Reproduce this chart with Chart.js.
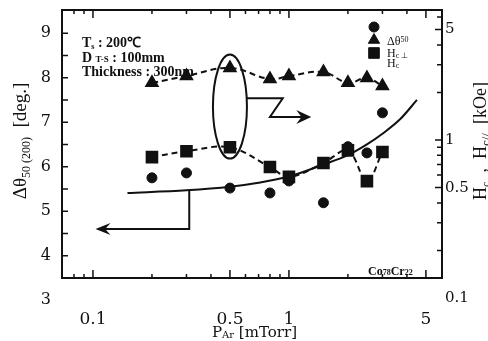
<!DOCTYPE html>
<html>
<head>
<meta charset="utf-8">
<script src="https://cdn.jsdelivr.net/npm/chart.js@4.4.1/dist/chart.umd.min.js"></script>
<style>
  html, body { margin: 0; padding: 0; background: #fff; }
</style>
</head>
<body>
<canvas id="chart" width="488" height="341"></canvas>
<script>
// Ar pressure [mTorr] for the measured samples
const pressure = [0.2, 0.3, 0.5, 0.8, 1.0, 1.5, 2.0, 2.5, 3.0];
const deltaTheta = [5.75, 5.86, 5.52, 5.41, 5.68, 5.19, 6.45, 6.31, 7.21];   // deg.
const hcPerp = [2.30, 2.54, 2.86, 2.43, 2.54, 2.69, 2.30, 2.47, 2.20];        // kOe
const hcPara = [0.78, 0.85, 0.90, 0.675, 0.585, 0.715, 0.86, 0.55, 0.84];     // kOe

// solid trend curve drawn through the delta theta points
const fitPressure = [0.15, 0.3, 0.5, 0.7, 1.0, 1.5, 2.0, 2.5, 3.0, 3.7, 4.5];
const fitTheta = [5.41, 5.47, 5.55, 5.64, 5.78, 6.05, 6.26, 6.50, 6.74, 7.07, 7.5];

const xTicks = [0.07, 0.08, 0.09, 0.1, 0.2, 0.3, 0.4, 0.5, 0.6, 0.7, 0.8, 0.9, 1, 2, 3, 4, 5, 6];
const xLabels = [0.1, 0.5, 1, 5];
const leftTicks = [3, 4, 4.5, 5, 5.5, 6, 6.5, 7, 7.5, 8, 8.5, 9];
const leftLabels = [3, 4, 5, 6, 7, 8, 9];
const rightTicks = [0.1, 0.2, 0.3, 0.4, 0.5, 0.6, 0.7, 0.8, 0.9, 1, 2, 3, 4, 5, 6];
const rightLabels = [0.1, 0.5, 1, 5];

const ink = '#111';
const serif = '"Liberation Serif", "Times New Roman", serif';
const numSerif = '"DejaVu Serif", serif';

const pairs = (xs, ys) => xs.map((x, i) => ({ x: x, y: ys[i] }));

function richText(ctx, parts, x, y, angle, align) {
    ctx.save();
    ctx.translate(x, y);
    ctx.rotate(angle || 0);
    ctx.textBaseline = 'alphabetic';
    ctx.textAlign = 'left';
    ctx.fillStyle = ink;
    const fontOf = p => `${p[3] || ''} ${p[1]}px ${p[4] || serif}`;
    const widths = parts.map(p => { ctx.font = fontOf(p); return ctx.measureText(p[0]).width; });
    const total = widths.reduce((a, b) => a + b, 0);
    let cx = align === 'center' ? -total / 2 : 0;
    parts.forEach((p, i) => {
        ctx.font = fontOf(p);
        ctx.fillText(p[0], cx, p[2]);
        cx += widths[i];
    });
    ctx.restore();
}

function arrowHead(ctx, tipX, tipY, dir, len, half) {
    // dir: 1 points right, -1 points left
    ctx.beginPath();
    ctx.moveTo(tipX, tipY);
    ctx.lineTo(tipX - dir * len, tipY - half);
    ctx.lineTo(tipX - dir * len * 0.65, tipY);
    ctx.lineTo(tipX - dir * len, tipY + half);
    ctx.closePath();
    ctx.fill();
}

// keep the plot box where the original has it
const noEdgePadding = s => { s.paddingTop = 0; s.paddingBottom = 0; s.paddingLeft = 0; s.paddingRight = 0; };

const frameAndNotes = {
    id: 'frameAndNotes',
    afterDatasetsDraw(chart) {
        const { ctx, chartArea: a, scales } = chart;
        const x = scales.x, y = scales.y, y2 = scales.y2;
        ctx.save();
        ctx.strokeStyle = ink;
        ctx.fillStyle = ink;

        // inward tick marks on all four sides
        ctx.lineWidth = 1.5;
        ctx.beginPath();
        x.ticks.forEach(t => {
            const px = x.getPixelForValue(t.value);
            if (px < a.left + 1 || px > a.right - 1) return;
            const len = xLabels.includes(t.value) ? 8 : 4;
            ctx.moveTo(px, a.bottom); ctx.lineTo(px, a.bottom - len);
            ctx.moveTo(px, a.top); ctx.lineTo(px, a.top + len);
        });
        y.ticks.forEach(t => {
            const py = y.getPixelForValue(t.value);
            if (py > a.bottom - 1 || py < a.top + 1) return;
            ctx.moveTo(a.left, py); ctx.lineTo(a.left + 6, py);
        });
        y2.ticks.forEach(t => {
            const py = y2.getPixelForValue(t.value);
            if (py > a.bottom - 1 || py < a.top + 1) return;
            const len = rightLabels.includes(t.value) ? 7 : 5;
            ctx.moveTo(a.right, py); ctx.lineTo(a.right - len, py);
        });
        ctx.stroke();

        ctx.lineWidth = 2;
        ctx.strokeRect(a.left, a.top, a.right - a.left, a.bottom - a.top);

        // ellipse round the x = 0.5 pair
        const ex = x.getPixelForValue(0.5);
        const ey = (y2.getPixelForValue(hcPerp[2]) + y2.getPixelForValue(hcPara[2])) / 2;
        ctx.beginPath();
        ctx.ellipse(ex, ey - 1, 17, 52, 0, 0, Math.PI * 2);
        ctx.stroke();

        // arrow to the right axis
        const r1 = y2.getPixelForValue(1.84), r2 = y2.getPixelForValue(1.40);
        const endR = x.getPixelForValue(1.3);
        ctx.beginPath();
        ctx.moveTo(ex + 17, r1);
        ctx.lineTo(x.getPixelForValue(0.93), r1);
        ctx.lineTo(x.getPixelForValue(0.8), r2);
        ctx.lineTo(endR - 8, r2);
        ctx.stroke();
        arrowHead(ctx, endR, r2, 1, 15, 7);

        // arrow to the left axis
        const lx = x.getPixelForValue(0.31);
        const ly1 = y.getPixelForValue(5.48), ly2 = y.getPixelForValue(4.6);
        const endL = x.getPixelForValue(0.103);
        ctx.beginPath();
        ctx.moveTo(lx, ly1);
        ctx.lineTo(lx, ly2);
        ctx.lineTo(endL + 8, ly2);
        ctx.stroke();
        arrowHead(ctx, endL, ly2, -1, 15, 6);

        ctx.restore();
    },
    afterDraw(chart) {
        const { ctx } = chart;
        // axis titles
        richText(ctx, [['Δθ', 19, 0], ['50 (200)', 12, 4], ['  [deg.]', 19, 0]], 26, 141, -Math.PI / 2, 'center');
        richText(ctx, [['H', 18, 0], ['c', 12, 4], ['  ,  ', 18, 0], ['H', 18, 0], ['c//', 13, 4], ['  [kOe]', 18, 0]], 486, 141, -Math.PI / 2, 'center');
        richText(ctx, [['P', 15, 0, '', numSerif], ['Ar', 10, 1, '', numSerif], [' [mTorr]', 15, 0, '', numSerif]], 212, 337, 0, 'left');

        // sample conditions
        richText(ctx, [['T', 14, 0, 'bold'], ['s', 8, 2, 'bold'], [' : 200℃', 14, 0, 'bold']], 82, 47);
        richText(ctx, [['D ', 14, 0, 'bold'], ['T-S', 9, 0, 'bold'], [' : 100mm', 14, 0, 'bold']], 82, 62);
        richText(ctx, [['Thickness : 300nm', 14, 0, 'bold']], 82, 76);
        richText(ctx, [['Co', 12, 0, 'bold'], ['78', 8, 0, 'bold'], ['Cr', 12, 0, 'bold'], ['22', 8, 0, 'bold']], 368, 275);

        // legend, as laid out in the original
        ctx.save();
        ctx.fillStyle = ink;
        ctx.strokeStyle = ink;
        Chart.helpers.drawPoint(ctx, { pointStyle: 'circle', radius: 5, rotation: 0, borderWidth: 1 }, 374, 27);
        Chart.helpers.drawPoint(ctx, { pointStyle: 'triangle', radius: 6.5, rotation: 0, borderWidth: 1 }, 374, 40);
        Chart.helpers.drawPoint(ctx, { pointStyle: 'rect', radius: 7.5, rotation: 0, borderWidth: 1 }, 374, 53);
        ctx.restore();
        richText(ctx, [['Δθ', 12, 0], ['50', 8, -3]], 387, 45);
        richText(ctx, [['H', 12, 0], ['c ⊥', 8, 1]], 387, 57);
        richText(ctx, [['H', 12, 0], ['c', 8, 1]], 387, 67);
    }
};

const ctx = document.getElementById('chart').getContext('2d');

new Chart(ctx, {
    type: 'line',
    data: {
        datasets: [
            {
                label: 'Δθ50',
                data: pairs(pressure, deltaTheta),
                yAxisID: 'y',
                showLine: false,
                pointStyle: 'circle',
                pointRadius: 5,
                backgroundColor: ink,
                borderColor: ink
            },
            {
                label: 'Hc⊥',
                data: pairs(pressure, hcPerp),
                yAxisID: 'y2',
                borderColor: ink,
                backgroundColor: ink,
                borderWidth: 2,
                borderDash: [6, 4],
                tension: 0.4,
                pointStyle: 'triangle',
                pointRadius: 6.5
            },
            {
                label: 'Hc//',
                data: pairs(pressure, hcPara),
                yAxisID: 'y2',
                borderColor: ink,
                backgroundColor: ink,
                borderWidth: 2,
                borderDash: [6, 4],
                tension: 0.35,
                pointStyle: 'rect',
                pointRadius: 7.5
            },
            {
                label: 'fit',
                data: pairs(fitPressure, fitTheta),
                yAxisID: 'y',
                borderColor: ink,
                borderWidth: 2,
                pointRadius: 0,
                cubicInterpolationMode: 'monotone'
            }
        ]
    },
    options: {
        responsive: false,
        animation: false,
        layout: { padding: { top: 10 } },
        plugins: {
            legend: { display: false },
            tooltip: { enabled: false }
        },
        scales: {
            x: {
                type: 'logarithmic',
                min: 0.0695,
                max: 6.04,
                grid: { display: false, drawTicks: false },
                border: { display: false },
                afterBuildTicks: s => { s.ticks = xTicks.map(v => ({ value: v })); },
                afterFit: s => { s.height = 63; noEdgePadding(s); },
                ticks: {
                    autoSkip: false,
                    maxRotation: 0,
                    padding: 31,
                    color: ink,
                    font: { family: numSerif, size: 17 },
                    callback: v => xLabels.includes(v) ? String(v) : ''
                }
            },
            y: {
                type: 'linear',
                position: 'left',
                min: 3.5,
                max: 9.52,
                grid: { display: false, drawTicks: false },
                border: { display: false },
                afterBuildTicks: s => { s.ticks = leftTicks.map(v => ({ value: v })); },
                afterFit: s => { s.width = 62; noEdgePadding(s); },
                ticks: {
                    autoSkip: false,
                    padding: 11,
                    color: ink,
                    font: { family: numSerif, size: 16 },
                    callback: v => leftLabels.includes(v) ? String(v) : ''
                }
            },
            y2: {
                type: 'logarithmic',
                position: 'right',
                min: 0.134,
                max: 6.65,
                grid: { display: false, drawTicks: false },
                border: { display: false },
                afterBuildTicks: s => { s.ticks = rightTicks.map(v => ({ value: v })); },
                afterFit: s => { s.width = 46; noEdgePadding(s); },
                ticks: {
                    autoSkip: false,
                    padding: 3,
                    color: ink,
                    font: { family: numSerif, size: 15 },
                    callback: v => rightLabels.includes(v) ? String(v) : ''
                }
            }
        }
    },
    plugins: [frameAndNotes]
});
</script>
</body>
</html>
